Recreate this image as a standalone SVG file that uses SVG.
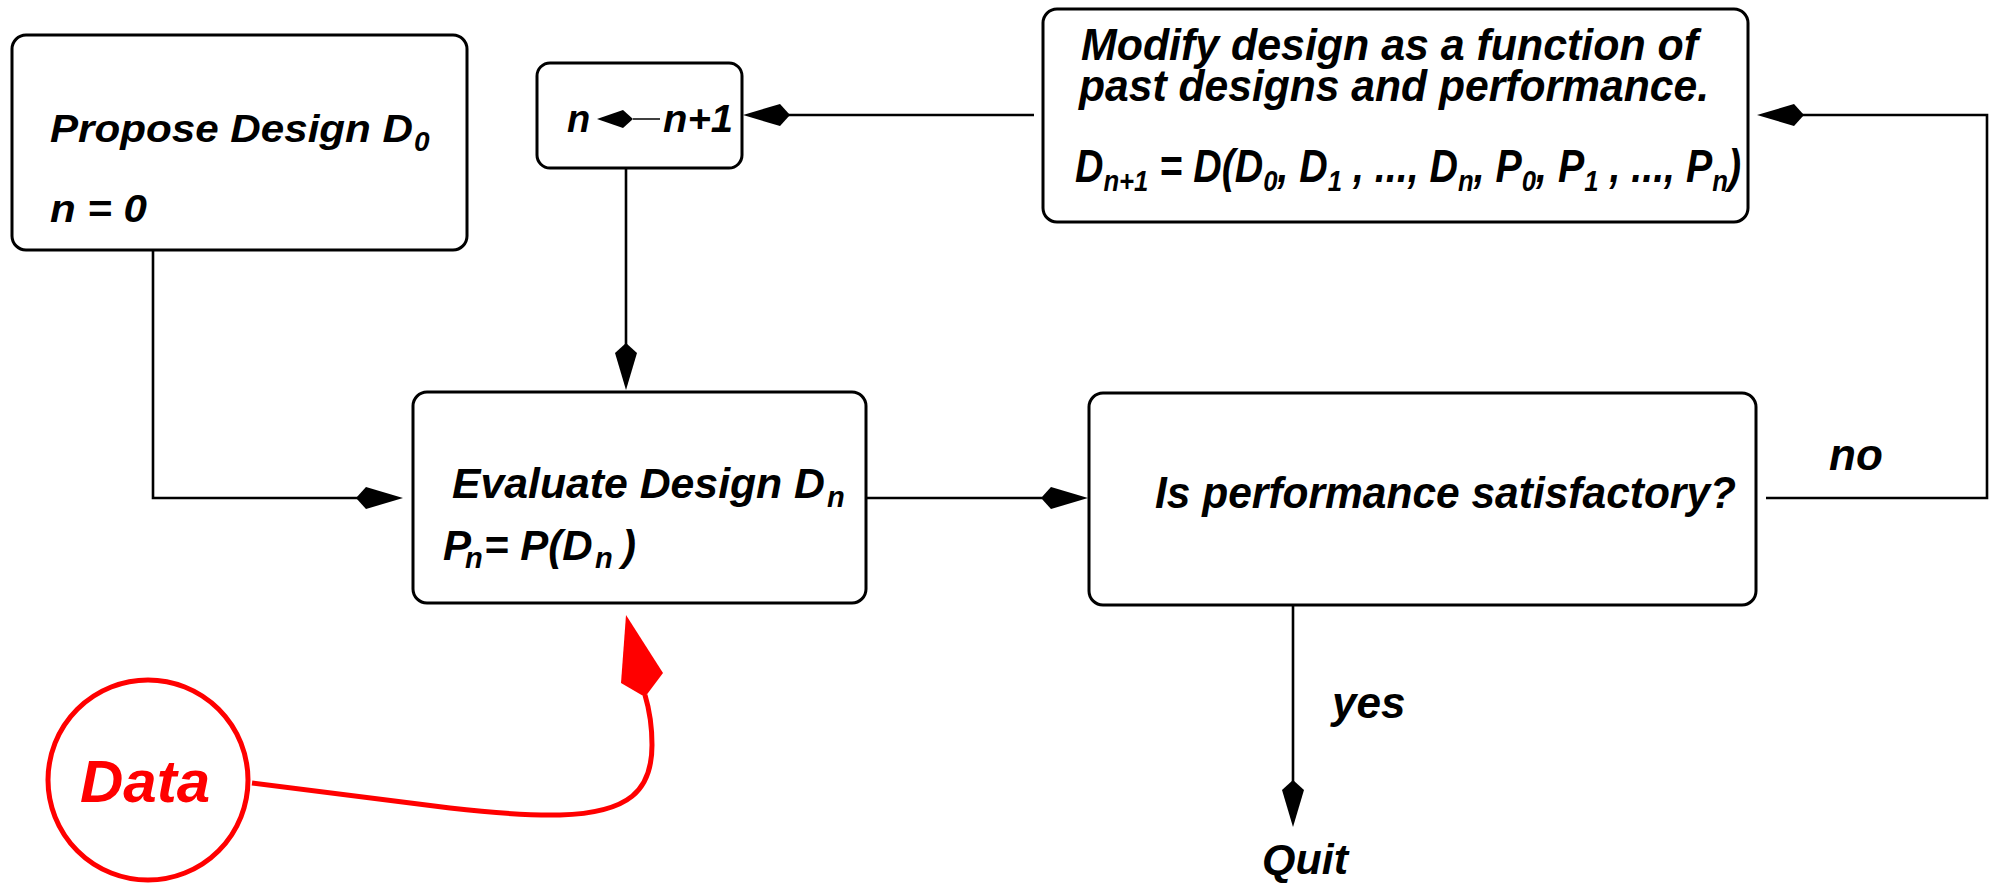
<svg xmlns="http://www.w3.org/2000/svg" xmlns:xlink="http://www.w3.org/1999/xlink" width="1990" height="883" viewBox="0 0 1990 883">
<style>
.box{fill:#fff;stroke:#000;stroke-width:3}
.t{font-family:"Liberation Sans",Arial,sans-serif;font-weight:bold;font-style:italic;fill:#000}
.conn{fill:none;stroke:#000;stroke-width:2.6}
.head{fill:#000}
.red{fill:none;stroke:#f00;stroke-width:5}
</style>
<defs>
<path id="kite" d="M0,0 L-37,-11 L-47,0 L-37,11 Z"/>
</defs>
<rect width="1990" height="883" fill="#fff"/>

<g id="connectors">
<path class="conn" d="M153,250 V498 H358"/>
<use href="#kite" class="head" transform="translate(403,498)"/>
<path class="conn" d="M626,168 V346"/>
<use href="#kite" class="head" transform="translate(626,390) rotate(90)"/>
<path class="conn" d="M867,498 H1042"/>
<use href="#kite" class="head" transform="translate(1088,498)"/>
<path class="conn" d="M1766,498 H1987 V115 H1802"/>
<use href="#kite" class="head" transform="translate(1757,115) rotate(180)"/>
<path class="conn" d="M1034,115 H788"/>
<use href="#kite" class="head" transform="translate(743,115) rotate(180)"/>
<path class="conn" d="M1293,605 V782"/>
<use href="#kite" class="head" transform="translate(1293,827) rotate(90)"/>
<path class="red" d="M252,783 L450,808 Q520,816 560,815 C630,813 652,790 652,745 C652,725 648,705 645,695"/>
<path fill="#f00" d="M626,615 L663,673 L645,697 L621,683 Z"/>
</g>

<g id="propose">
<rect class="box" x="12" y="35" width="455" height="215" rx="14"/>
<text class="t" x="50" y="142" font-size="39" textLength="363" lengthAdjust="spacingAndGlyphs">Propose Design D</text>
<text class="t" x="414" y="151" font-size="28">0</text>
<text class="t" x="50" y="222" font-size="39" textLength="97" lengthAdjust="spacingAndGlyphs">n = 0</text>
</g>

<g id="increment">
<rect class="box" x="537" y="63" width="205" height="105" rx="13"/>
<text class="t" x="567" y="132" font-size="38">n</text>
<path d="M633,119 H660" stroke="#000" stroke-width="1.5"/>
<path d="M597,119 L623,110 L633,119 L623,128 Z" fill="#000"/>
<text class="t" x="663" y="132" font-size="38" textLength="70" lengthAdjust="spacingAndGlyphs">n+1</text>
</g>

<g id="modify">
<rect class="box" x="1043" y="9" width="705" height="213" rx="14"/>
<text class="t" x="1081" y="60" font-size="45" textLength="617" lengthAdjust="spacingAndGlyphs">Modify design as a function of</text>
<text class="t" x="1079" y="101" font-size="45" textLength="630" lengthAdjust="spacingAndGlyphs">past designs and performance.</text>
<text class="t" x="1075" y="182" font-size="46" textLength="666" lengthAdjust="spacingAndGlyphs">D<tspan font-size="30" dy="9">n+1</tspan><tspan dy="-9"> = D(D</tspan><tspan font-size="30" dy="9">0</tspan><tspan dy="-9">, D</tspan><tspan font-size="30" dy="9">1</tspan><tspan dy="-9"> , ..., D</tspan><tspan font-size="30" dy="9">n</tspan><tspan dy="-9">, P</tspan><tspan font-size="30" dy="9">0</tspan><tspan dy="-9">, P</tspan><tspan font-size="30" dy="9">1</tspan><tspan dy="-9"> , ..., P</tspan><tspan font-size="30" dy="9">n</tspan><tspan dy="-9">)</tspan></text>
</g>

<g id="evaluate">
<rect class="box" x="413" y="392" width="453" height="211" rx="14"/>
<text class="t" x="452" y="498" font-size="42" textLength="373" lengthAdjust="spacingAndGlyphs">Evaluate Design D</text>
<text class="t" x="827" y="507" font-size="29">n</text>
<text class="t" x="443" y="560" font-size="42">P</text>
<text class="t" x="465" y="568" font-size="29">n</text>
<text class="t" x="484" y="560" font-size="42">= P(D</text>
<text class="t" x="595" y="568" font-size="29">n</text>
<text class="t" x="622" y="560" font-size="42">)</text>
</g>

<g id="decision">
<rect class="box" x="1089" y="393" width="667" height="212" rx="14"/>
<text class="t" x="1155" y="508" font-size="44" textLength="581" lengthAdjust="spacingAndGlyphs">Is performance satisfactory?</text>
</g>

<g id="labels">
<text class="t" x="1829" y="470" font-size="44">no</text>
<text class="t" x="1332" y="718" font-size="44">yes</text>
<text class="t" x="1262" y="874" font-size="43">Quit</text>
</g>

<g id="data">
<circle cx="148" cy="780" r="100" fill="none" stroke="#f00" stroke-width="5"/>
<text class="t" x="80" y="802" font-size="60" style="fill:#f00">Data</text>
</g>
</svg>
